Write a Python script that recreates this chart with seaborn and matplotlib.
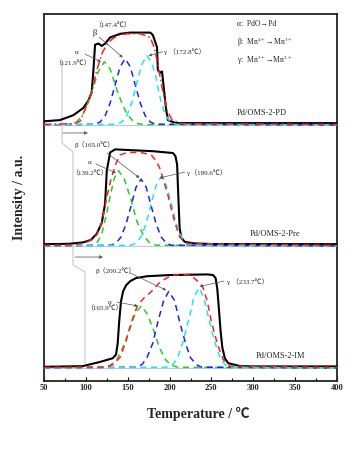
import numpy as np
import matplotlib
matplotlib.use("Agg")
import matplotlib.pyplot as plt
import seaborn as sns

# Values.
# Temperature in degC, intensity in "panel units" (1.0 = height of one stacked panel)

# --- Pd/OMS-2-PD (top)
pd_total_t = [50, 69, 85, 97, 103, 107, 109, 111, 115, 119, 123, 129, 141, 153, 170, 177, 180, 185, 186, 189, 191, 193, 196, 198, 207, 230, 400]
pd_total_v = [0.03, 0.04, 0.08, 0.14, 0.2, 0.27, 0.45, 0.66, 0.67, 0.65, 0.67, 0.72, 0.75, 0.76, 0.76, 0.76, 0.74, 0.64, 0.45, 0.43, 0.44, 0.31, 0.12, 0.04, 0.016, 0.015, 0.015]
pd_fit_t = [50, 85, 93, 101, 107, 113, 120, 126, 132, 140, 149, 165, 177, 182, 185, 191, 197, 203, 215, 400]
pd_fit_v = [0.005, 0.01, 0.03, 0.16, 0.27, 0.45, 0.6, 0.67, 0.71, 0.74, 0.75, 0.75, 0.72, 0.63, 0.53, 0.31, 0.12, 0.04, 0.01, 0.005]
pd_alpha_t = [50, 82, 88, 95, 101, 108, 115, 122, 129, 136, 143, 149, 156, 162, 170, 400]
pd_alpha_v = [0, 0.006, 0.02, 0.07, 0.15, 0.29, 0.44, 0.52, 0.46, 0.31, 0.18, 0.09, 0.035, 0.01, 0.003, 0]
pd_beta_t = [50, 111, 117, 123, 129, 135, 141, 147, 153, 159, 165, 171, 177, 183, 400]
pd_beta_v = [0, 0.006, 0.024, 0.074, 0.18, 0.33, 0.48, 0.545, 0.48, 0.33, 0.18, 0.074, 0.024, 0.006, 0]
pd_gamma_t = [50, 137, 143, 149, 155, 161, 167, 173, 178, 183, 186, 190, 194, 197, 202, 208, 400]
pd_gamma_v = [0, 0.006, 0.025, 0.077, 0.185, 0.35, 0.5, 0.57, 0.52, 0.42, 0.31, 0.19, 0.1, 0.06, 0.02, 0.005, 0]

# --- Pd/OMS-2-Pre (middle)
pre_total_t = [50, 80, 97, 106, 113, 119, 123, 125, 129, 135, 150, 180, 204, 207, 209, 210.5, 212, 214, 218, 228, 250, 400]
pre_total_v = [0.015, 0.018, 0.03, 0.05, 0.1, 0.19, 0.35, 0.62, 0.77, 0.795, 0.79, 0.78, 0.765, 0.74, 0.67, 0.4, 0.15, 0.07, 0.035, 0.022, 0.016, 0.015]
pre_fit_t = [50, 83, 96, 104, 108, 113, 119, 125, 130, 136, 141, 150, 165, 178, 184, 189, 198, 206, 212, 220, 400]
pre_fit_v = [0.005, 0.008, 0.02, 0.04, 0.06, 0.09, 0.19, 0.4, 0.55, 0.68, 0.75, 0.77, 0.77, 0.75, 0.7, 0.63, 0.42, 0.2, 0.075, 0.02, 0.005]
pre_alpha_t = [50, 109, 114, 119, 124, 129, 134, 139, 146, 154, 161, 169, 176, 184, 400]
pre_alpha_v = [0, 0.007, 0.035, 0.1, 0.24, 0.41, 0.56, 0.62, 0.55, 0.38, 0.2, 0.084, 0.027, 0.007, 0]
pre_beta_t = [50, 130, 136, 142, 148, 154, 160, 166, 172, 178, 184, 190, 196, 202, 400]
pre_beta_v = [0, 0.006, 0.024, 0.074, 0.18, 0.33, 0.485, 0.55, 0.485, 0.33, 0.18, 0.074, 0.024, 0.006, 0]
pre_gamma_t = [50, 154, 160, 166, 172, 178, 184, 190, 196, 202, 208, 214, 220, 226, 400]
pre_gamma_v = [0, 0.006, 0.025, 0.077, 0.185, 0.35, 0.5, 0.57, 0.5, 0.35, 0.185, 0.077, 0.025, 0.006, 0]

# --- Pd/OMS-2-IM (bottom)
im_total_t = [50, 96, 117, 132, 136, 138, 140, 142, 144.5, 148, 153, 160, 173, 200, 245, 252, 255, 257, 259, 261, 263, 266, 270, 284, 300, 400]
im_total_v = [0.01, 0.015, 0.05, 0.08, 0.11, 0.2, 0.4, 0.55, 0.63, 0.68, 0.715, 0.74, 0.755, 0.765, 0.77, 0.765, 0.74, 0.65, 0.48, 0.3, 0.17, 0.08, 0.04, 0.016, 0.013, 0.013]
im_fit_t = [50, 125, 133, 141, 148, 151, 155, 162, 170, 177, 189, 203, 224, 236, 240, 245, 250, 257, 264, 272, 400]
im_fit_v = [0.005, 0.008, 0.03, 0.09, 0.22, 0.3, 0.39, 0.52, 0.58, 0.62, 0.71, 0.765, 0.77, 0.7, 0.66, 0.55, 0.38, 0.2, 0.07, 0.015, 0.005]
im_alpha_t = [50, 122, 129, 137, 144, 151, 159, 166, 173, 181, 188, 195, 202, 210, 400]
im_alpha_v = [0, 0.006, 0.022, 0.069, 0.166, 0.29, 0.45, 0.51, 0.45, 0.31, 0.166, 0.069, 0.022, 0.006, 0]
im_beta_t = [50, 160, 167, 173, 180, 186, 193, 199, 206, 212, 219, 225, 232, 238, 400]
im_beta_v = [0, 0.007, 0.028, 0.085, 0.205, 0.38, 0.555, 0.63, 0.555, 0.38, 0.205, 0.085, 0.028, 0.007, 0]
im_gamma_t = [50, 198, 204, 210, 216, 223, 229, 235, 241, 247, 254, 260, 266, 272, 400]
im_gamma_v = [0, 0.007, 0.029, 0.089, 0.215, 0.4, 0.58, 0.66, 0.58, 0.4, 0.215, 0.089, 0.029, 0.007, 0]

sample_names = ["Pd/OMS-2-PD", "Pd/OMS-2-Pre", "Pd/OMS-2-IM"]
peak_labels = [["（121.9℃）", "（147.4℃）", "（172.8℃）"],
               ["（139.2℃）", "（165.0℃）", "（189.6℃）"],
               ["（165.9℃）", "（200.2℃）", "（233.7℃）"]]
key_lines = ["α:  PdO→Pd", "β:  Mn$^{4+}$→Mn$^{3+}$", "γ:  Mn$^{3+}$→Mn$^{2+}$"]
x_ticks = [50, 100, 150, 200, 250, 300, 350, 400]

# stacking offsets of the three panels
offsets = [2.107, 1.111, 0.107]

sns.set_theme(style="white")
plt.rcParams["font.family"] = ["Liberation Serif", "Noto Sans CJK SC", "DejaVu Sans"]
plt.rcParams["mathtext.fontset"] = "stix"

fig = plt.figure(figsize=(3.57, 4.61), dpi=100)
ax = fig.add_axes([44 / 357, 80 / 461, 293 / 357, 367 / 461])

green, blue, cyan, red = "#1ed41e", "#1f1fff", "#20e8e8", "#ff1f1f"
lav = "#c4c4ec"
dash = (0, (4, 3))

panels = [
    (pd_total_t, pd_total_v, pd_fit_t, pd_fit_v, (pd_alpha_t, pd_alpha_v), (pd_beta_t, pd_beta_v), (pd_gamma_t, pd_gamma_v), (0, (5, 2, 1, 2))),
    (pre_total_t, pre_total_v, pre_fit_t, pre_fit_v, (pre_alpha_t, pre_alpha_v), (pre_beta_t, pre_beta_v), (pre_gamma_t, pre_gamma_v), dash),
    (im_total_t, im_total_v, im_fit_t, im_fit_v, (im_alpha_t, im_alpha_v), (im_beta_t, im_beta_v), (im_gamma_t, im_gamma_v), dash),
]

peak_tops = []
for off, (tt, tv, ft, fv, a, b, g, fit_ls) in zip(offsets, panels):
    ax.axhline(off, color=lav, lw=0.8, zorder=1)
    sns.lineplot(x=tt, y=np.array(tv) + off, color="black", lw=1.5, ax=ax, zorder=3)
    tops = []
    for (pt, pv), col in zip([a, b, g], [green, blue, cyan]):
        sns.lineplot(x=pt, y=np.array(pv) + off, color=col, lw=1.1, linestyle=dash, ax=ax, zorder=4)
        i = int(np.argmax(pv))
        tops.append((pt[i], pv[i] + off))
    sns.lineplot(x=ft, y=np.array(fv) + off, color=red, lw=1.1, linestyle=fit_ls, ax=ax, zorder=5)
    peak_tops.append(tops)

ax.set_xlim(50, 400)
ax.set_ylim(0, 3.02)
ax.set_yticks([])
ax.set_xticks(x_ticks)
ax.set_xticks(range(75, 400, 50), minor=True)
ax.tick_params(axis="x", which="both", direction="in", bottom=True, top=False, labelsize=6, pad=2, color="black")
ax.tick_params(axis="x", which="major", length=3, width=0.8)
ax.tick_params(axis="x", which="minor", length=2, width=0.8)
for lab in ax.get_xticklabels():
    lab.set_fontweight("bold")
for s in ax.spines.values():
    s.set_color("#222222")
    s.set_linewidth(1.3)

ax.set_xlabel("Temperature / ℃", fontsize=10, fontweight="bold")
ax.set_ylabel("Intensity / a.u.", fontsize=10, fontweight="bold")
ax.xaxis.set_label_coords(0.525, -0.07)
ax.yaxis.set_label_coords(-0.06, 0.5)


def pointer(start, end):
    ax.annotate("", xy=end, xytext=start,
                arrowprops=dict(arrowstyle="-|>", color="#555555", lw=0.5,
                                mutation_scale=4, shrinkA=0, shrinkB=0), zorder=6)


fs = 5
# top panel labels
(a1, b1, g1), (a2, b2, g2), (a3, b3, g3) = peak_tops
ax.text(132.4, 2.93, peak_labels[0][1], ha="center", va="center", fontsize=fs)
ax.text(110.9, 2.864, "β", ha="center", va="center", fontsize=fs + 1)
pointer((116, 2.83), (b1[0] - 3, b1[1] + 0.01))
ax.text(89.4, 2.70, "α", ha="center", va="center", fontsize=fs)
ax.text(84.6, 2.617, peak_labels[0][0], ha="center", va="center", fontsize=fs)
pointer((99, 2.69), (a1[0] - 4, a1[1]))
ax.text(193.4, 2.708, "γ " + peak_labels[0][2], ha="left", va="center", fontsize=fs)
pointer((192, 2.71), (g1[0] + 2, g1[1]))

# reaction key, upper right
for yy, txt in zip([2.938, 2.79, 2.642], key_lines):
    ax.text(280.6, yy, txt, ha="left", va="center", fontsize=5.5)

# middle panel labels
ax.text(87, 1.942, "β" + peak_labels[1][1], ha="left", va="center", fontsize=fs)
pointer((125.3, 1.877), (b2[0] - 2, b2[1] + 0.01))
ax.text(105, 1.802, "α", ha="center", va="center", fontsize=fs)
ax.text(103.8, 1.712, peak_labels[1][0], ha="center", va="center", fontsize=fs)
pointer((112, 1.786), (a2[0] - 3, a2[1] - 0.02))
ax.text(220.8, 1.712, "γ" + peak_labels[1][2], ha="left", va="center", fontsize=fs)
pointer((218.4, 1.72), (g2[0] - 2, g2[1] - 0.01))

# bottom panel labels
ax.text(112, 0.905, "β" + peak_labels[2][1], ha="left", va="center", fontsize=fs)
pointer((152.7, 0.889), (b3[0] - 3, b3[1] + 0.01))
ax.text(128.8, 0.65, "α", ha="center", va="center", fontsize=fs)
ax.text(121.7, 0.6, peak_labels[2][0], ha="center", va="center", fontsize=fs)
pointer((137.2, 0.65), (a3[0] - 4, a3[1]))
ax.text(268.6, 0.815, "γ " + peak_labels[2][2], ha="left", va="center", fontsize=fs)
pointer((265, 0.823), (g3[0] + 1, g3[1] + 0.01))

# sample names
for off, name, tx in zip(offsets, sample_names, [310, 326, 332]):
    ax.text(tx, off + 0.1, name, ha="center", va="center", fontsize=6)

# lavender guide polyline and scan direction arrows
guide_t = [71.5, 71.5, 84.6, 84.6, 99, 99]
guide_y = [2.626, 1.959, 1.885, 0.955, 0.897, 0.148]
ax.plot(guide_t, guide_y, color=lav, lw=0.8, zorder=1)
for (t0, t1, yy) in [(72.7, 102.6, 2.041), (87, 120.5, 1.02)]:
    ax.annotate("", xy=(t1, yy), xytext=(t0, yy),
                arrowprops=dict(arrowstyle="-|>", color="#666666", lw=0.6,
                                mutation_scale=5, shrinkA=0, shrinkB=0))

plt.savefig("out.png", dpi=100)
